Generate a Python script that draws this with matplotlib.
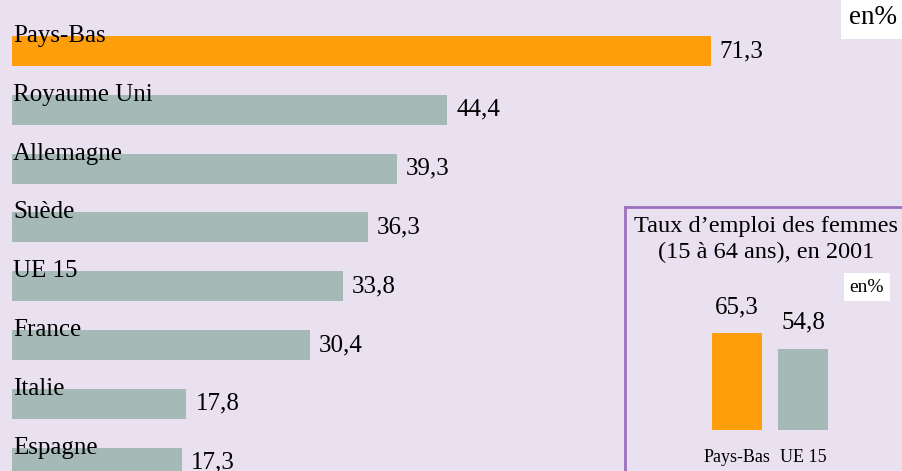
import matplotlib
matplotlib.use("Agg")
import matplotlib.pyplot as plt

plt.rcParams['font.family'] = ['Liberation Serif', 'DejaVu Serif']

# ---- data ----
countries = ["Pays-Bas", "Royaume Uni", "Allemagne", "Suède", "UE 15",
             "France", "Italie", "Espagne"]
values = [71.3, 44.4, 39.3, 36.3, 33.8, 30.4, 17.8, 17.3]
value_labels = ["71,3", "44,4", "39,3", "36,3", "33,8", "30,4", "17,8", "17,3"]
highlight = "Pays-Bas"

inset_cats = ["Pays-Bas", "UE 15"]
inset_vals = [65.3, 54.8]
inset_labels = ["65,3", "54,8"]
inset_title = "Taux d\u2019emploi des femmes\n(15 à 64 ans), en 2001"
unit = "en%"

BG = "#E9E0F0"
ORANGE = "#FF9E0B"
GREY = "#A5BAB6"
PURPLE = "#9B70BE"

W, H = 903, 471
fig = plt.figure(figsize=(W / 100, H / 100), dpi=100)
fig.patch.set_facecolor(BG)

# main axes covering whole figure
ax = fig.add_axes([0, 0, 1, 1])
ax.set_facecolor(BG)
pxu = 9.8            # px per unit
x0 = 12              # px of zero
ax.set_xlim(-x0 / pxu, (W - x0) / pxu)
step = 58.8
c0 = 51
ax.set_ylim((H - c0) / step, -c0 / step)
ax.axis("off")

FS = 18
pos = list(range(len(countries)))
colors = [ORANGE if c == highlight else GREY for c in countries]
bh = 30 / step
ax.barh(pos, values, height=bh, color=colors, zorder=1)
for i, (c, v, lab) in enumerate(zip(countries, values, value_labels)):
    ax.annotate(c, (0, i - bh / 2), xytext=(1, -6), textcoords="offset pixels",
                ha="left", va="baseline", fontsize=FS, color="black", zorder=3)
    ax.annotate(lab, (v, i), xytext=(9, -6), textcoords="offset pixels",
                ha="left", va="baseline", fontsize=FS, color="black", zorder=3)

# top-right unit box
fig.text(897 / W, 1 - 18 / H, unit, ha="right", va="center", fontsize=19.5,
         bbox=dict(boxstyle="square,pad=0.3", fc="white", ec="none"))

# inset frame
box = fig.add_axes([625 / W, (H - 480) / H, 290 / W, 273 / H])
box.set_facecolor(BG)
box.set_xticks([]); box.set_yticks([])
for s in ["left", "top", "right", "bottom"]:
    box.spines[s].set_color(PURPLE)
    box.spines[s].set_linewidth(2)

fig.text(766 / W, 1 - 240 / H, inset_title, ha="center", va="center",
         fontsize=17.5, linespacing=1.3)
fig.text(867 / W, 1 - 287 / H, unit, ha="center", va="center", fontsize=14,
         bbox=dict(boxstyle="square,pad=0.3", fc="white", ec="none"))

# inset bars
bx = fig.add_axes([700 / W, (H - 430) / H, 140 / W, 150 / H])
bx.patch.set_alpha(0)
bx.axis("off")
sp = 66
bx.set_xlim((700 - 737) / sp, (840 - 737) / sp)
bx.set_ylim(0, 150 / 1.486)
ipos = list(range(len(inset_cats)))
icol = [ORANGE if c == highlight else GREY for c in inset_cats]
bx.bar(ipos, inset_vals, width=50 / sp, color=icol)
for i, (c, v, lab) in enumerate(zip(inset_cats, inset_vals, inset_labels)):
    bx.annotate(lab, (i, v), xytext=(0, 20), textcoords="offset pixels",
                ha="center", va="baseline", fontsize=18)
    bx.annotate(c, (i, 0), xytext=(0, -27), textcoords="offset pixels",
                ha="center", va="center", fontsize=13)

fig.savefig("out.png", dpi=100, facecolor=BG)
